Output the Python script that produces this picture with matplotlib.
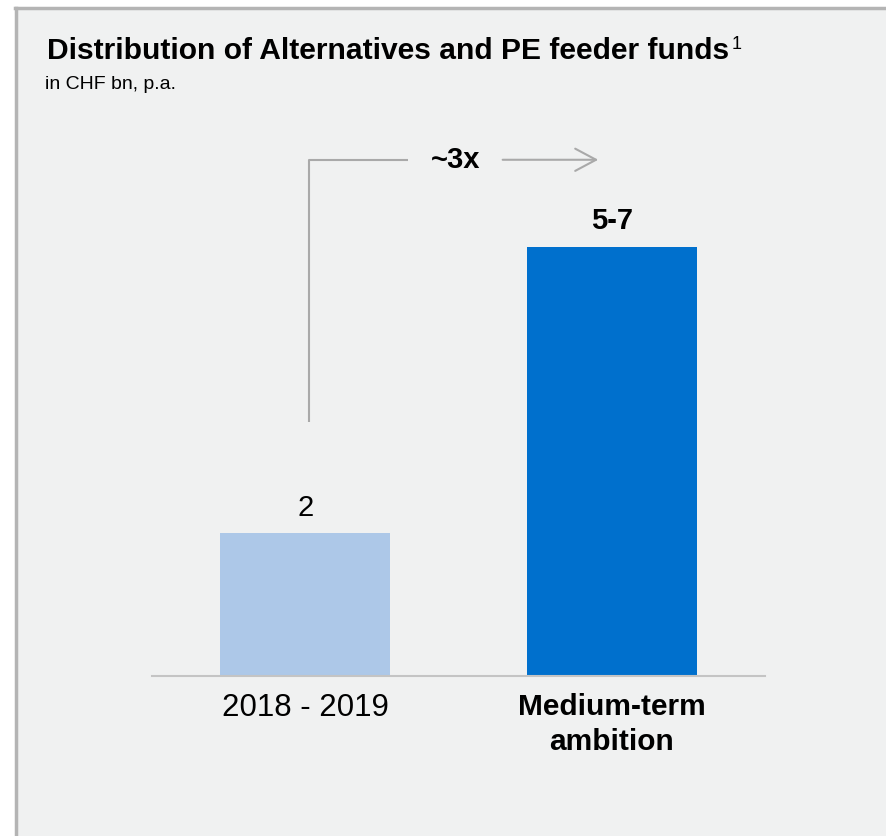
import matplotlib
matplotlib.use("Agg")
import matplotlib.pyplot as plt
from matplotlib.lines import Line2D
from matplotlib.patches import Rectangle

plt.rcParams['font.family'] = ['Liberation Sans', 'DejaVu Sans']

# data
categories = ["2018 - 2019", "Medium-term\nambition"]
values = [2, 6]            # 5-7 shown as its midpoint
value_labels = ["2", "5-7"]
bar_colors = ["#adc8e8", "#0070cd"]
growth_label = "~3x"

bg = "#f0f1f1"
grey = "#a9a9a9"

fig = plt.figure(figsize=(8.87, 8.36), dpi=100)
fig.patch.set_facecolor("white")

# panel with grey top/left border
fig.patches.append(Rectangle((15 / 887, 0), 1 - 15 / 887, 1 - 8 / 836,
                             transform=fig.transFigure, facecolor=bg,
                             edgecolor="none", zorder=-5))
fig.lines.append(Line2D([16 / 887, 16 / 887], [0, 1 - 8 / 836],
                        transform=fig.transFigure, color="#b4b4b4", lw=2.5,
                        zorder=-4))
fig.lines.append(Line2D([15 / 887, 1], [1 - 8 / 836, 1 - 8 / 836],
                        transform=fig.transFigure, color="#b4b4b4", lw=2.5,
                        zorder=-4))

ax = fig.add_axes([152 / 887, 160 / 836, 613 / 887, 576 / 836])
ax.set_facecolor("none")
ax.set_xlim(-0.5, 1.5)
ax.set_ylim(0, 576 / 71.5)

x = range(len(categories))
ax.bar(x, values, width=0.555, color=bar_colors, zorder=2)

for spine in ["top", "right", "left"]:
    ax.spines[spine].set_visible(False)
ax.spines["bottom"].set_color("#c4c4c4")
ax.spines["bottom"].set_linewidth(1.5)
ax.set_yticks([])
ax.set_xticks(list(x))
ax.set_xticklabels(categories)
ax.tick_params(axis="x", length=0, pad=12)
tl = ax.get_xticklabels()
tl[0].set_fontsize(22.5)
tl[1].set_fontsize(21.5)
tl[1].set_fontweight("bold")
tl[1].set_linespacing(1.35)

# value labels
ax.text(0, values[0] + 0.15, value_labels[0], ha="center", va="bottom",
        fontsize=21)
ax.text(1, values[1] + 0.17, value_labels[1], ha="center", va="bottom",
        fontsize=21, fontweight="bold")

# growth arrow
ax.plot([0.012, 0.012, 0.335], [3.55, 7.22, 7.22], color=grey, lw=1.5,
        solid_capstyle="butt", clip_on=False)
ax.annotate("", xy=(0.965, 7.22), xytext=(0.635, 7.22),
            arrowprops=dict(arrowstyle="->,head_length=1.5,head_width=0.8",
                            color=grey, lw=1.5), annotation_clip=False)
ax.text(0.49, 7.22, growth_label, ha="center", va="center", fontsize=21,
        fontweight="bold")

# title + footnote marker
title = fig.text(47 / 887, 1 - 59 / 836,
                 "Distribution of Alternatives and PE feeder funds",
                 fontsize=21.6, fontweight="bold", ha="left", va="baseline")
fig.canvas.draw()
bb = title.get_window_extent()
fig.text((bb.x1 + 3) / 887, 1 - 49 / 836, "1", fontsize=13, ha="left",
         va="baseline")
fig.text(45 / 887, 1 - 89 / 836, "in CHF bn, p.a.", fontsize=14,
         ha="left", va="baseline")

fig.savefig("out.png", dpi=100, facecolor=fig.get_facecolor())
